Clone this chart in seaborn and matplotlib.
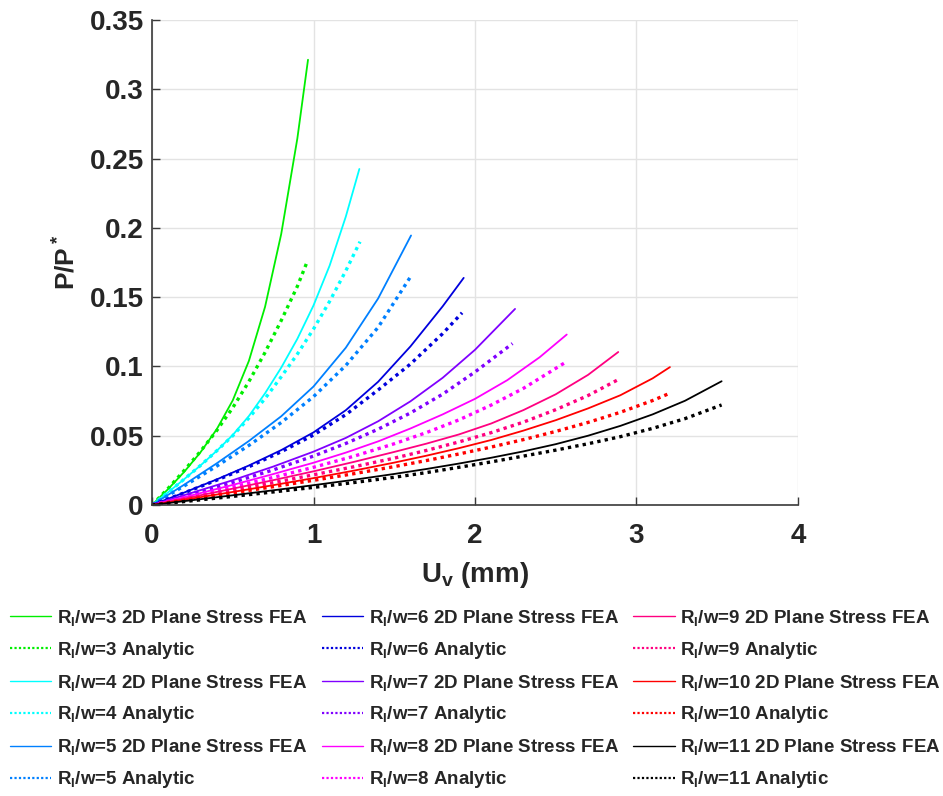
import matplotlib
matplotlib.use("Agg")
import matplotlib.pyplot as plt
import seaborn as sns
import pandas as pd
from matplotlib.lines import Line2D

# ---------------- data ----------------
ratios = [3, 4, 5, 6, 7, 8, 9, 10, 11]
colors = ["#00ee00", "#00ffff", "#0080ff", "#0000dd", "#8000ff",
          "#ff00ff", "#ff0080", "#ff0000", "#000000"]

u_fea_3 = [0, 0.1, 0.2, 0.3, 0.4, 0.5, 0.6, 0.7, 0.8, 0.9, 0.966]
p_fea_3 = [0, 0.0115, 0.024, 0.038, 0.0545, 0.0755, 0.104, 0.143, 0.1955, 0.2645, 0.3213]
u_ana_3 = [0, 0.1, 0.2, 0.3, 0.4, 0.5, 0.6, 0.7, 0.8, 0.9, 0.964]
p_ana_3 = [0, 0.012, 0.025, 0.0387, 0.0536, 0.0702, 0.0891, 0.1101, 0.1331, 0.1578, 0.1765]

u_fea_4 = [0, 0.1, 0.2, 0.3, 0.4, 0.5, 0.6, 0.7, 0.8, 0.9, 1.0, 1.1, 1.2, 1.284]
p_fea_4 = [0, 0.0092, 0.0187, 0.0285, 0.039, 0.0505, 0.0642, 0.0806, 0.0991, 0.1199, 0.144, 0.1728, 0.2081, 0.2425]
u_ana_4 = [0, 0.1, 0.2, 0.3, 0.4, 0.5, 0.6, 0.7, 0.8, 0.9, 1.0, 1.1, 1.2, 1.288]
p_ana_4 = [0, 0.0092, 0.0187, 0.0285, 0.039, 0.05, 0.0628, 0.0768, 0.0925, 0.1089, 0.127, 0.147, 0.169, 0.19]

u_fea_5 = [0, 0.2, 0.4, 0.6, 0.8, 1.0, 1.2, 1.4, 1.604]
p_fea_5 = [0, 0.0147, 0.03, 0.0462, 0.064, 0.0855, 0.1135, 0.149, 0.1945]
u_ana_5 = [0, 0.2, 0.4, 0.6, 0.8, 1.0, 1.2, 1.4, 1.605]
p_ana_5 = [0, 0.0138, 0.028, 0.043, 0.0595, 0.0782, 0.1007, 0.1282, 0.1655]

u_fea_6 = [0, 0.2, 0.4, 0.6, 0.8, 1.0, 1.2, 1.4, 1.6, 1.8, 1.93]
p_fea_6 = [0, 0.009, 0.0184, 0.0285, 0.0396, 0.0524, 0.0684, 0.0889, 0.1144, 0.1434, 0.1639]
u_ana_6 = [0, 0.2, 0.4, 0.6, 0.8, 1.0, 1.2, 1.4, 1.6, 1.8, 1.92]
p_ana_6 = [0, 0.0088, 0.0179, 0.0276, 0.0384, 0.0505, 0.0652, 0.083, 0.1017, 0.1237, 0.1387]

u_fea_7 = [0, 0.25, 0.5, 0.75, 1.0, 1.2, 1.4, 1.6, 1.8, 2.0, 2.248]
p_fea_7 = [0, 0.0089, 0.0179, 0.0277, 0.0385, 0.0484, 0.0604, 0.0748, 0.0918, 0.112, 0.1415]
u_ana_7 = [0, 0.25, 0.5, 0.75, 1.0, 1.2, 1.4, 1.6, 1.8, 2.0, 2.232]
p_ana_7 = [0, 0.008, 0.0163, 0.0253, 0.0353, 0.0444, 0.0547, 0.0664, 0.08, 0.096, 0.1165]

u_fea_8 = [0, 0.25, 0.5, 0.75, 1.0, 1.2, 1.4, 1.6, 1.8, 2.0, 2.2, 2.4, 2.568]
p_fea_8 = [0, 0.0071, 0.0145, 0.0223, 0.0305, 0.0378, 0.0459, 0.0552, 0.0654, 0.0766, 0.0901, 0.1066, 0.123]
u_ana_8 = [0, 0.25, 0.5, 0.75, 1.0, 1.25, 1.5, 1.7, 1.9, 2.1, 2.3, 2.568]
p_ana_8 = [0, 0.0064, 0.013, 0.0199, 0.0272, 0.0352, 0.0442, 0.0523, 0.0614, 0.0721, 0.0842, 0.1035]

u_fea_9 = [0, 0.25, 0.5, 0.75, 1.0, 1.25, 1.5, 1.7, 1.9, 2.1, 2.3, 2.5, 2.7, 2.887]
p_fea_9 = [0, 0.0058, 0.0118, 0.0179, 0.0243, 0.0311, 0.0383, 0.0443, 0.0509, 0.0588, 0.0685, 0.0799, 0.0939, 0.1104]
u_ana_9 = [0, 0.25, 0.5, 0.75, 1.0, 1.25, 1.5, 1.7, 1.9, 2.1, 2.3, 2.5, 2.7, 2.882]
p_ana_9 = [0, 0.0053, 0.0106, 0.0161, 0.0218, 0.0276, 0.0338, 0.0394, 0.0455, 0.0522, 0.0598, 0.0688, 0.079, 0.0902]

u_fea_10 = [0, 0.25, 0.5, 0.75, 1.0, 1.25, 1.5, 1.7, 1.9, 2.1, 2.3, 2.5, 2.7, 2.9, 3.1, 3.207]
p_fea_10 = [0, 0.0047, 0.0094, 0.0143, 0.0194, 0.0248, 0.0306, 0.0356, 0.041, 0.0469, 0.0537, 0.0612, 0.0697, 0.0792, 0.0914, 0.0995]
u_ana_10 = [0, 0.25, 0.5, 0.75, 1.0, 1.25, 1.5, 1.7, 1.9, 2.1, 2.3, 2.5, 2.7, 2.9, 3.1, 3.203]
p_ana_10 = [0, 0.0043, 0.0087, 0.0132, 0.0178, 0.0226, 0.0277, 0.0321, 0.0368, 0.0418, 0.0472, 0.0531, 0.0596, 0.0669, 0.0754, 0.0805]

u_fea_11 = [0, 0.25, 0.5, 0.75, 1.0, 1.25, 1.5, 1.7, 1.9, 2.1, 2.3, 2.5, 2.7, 2.9, 3.1, 3.3, 3.527]
p_fea_11 = [0, 0.0035, 0.007, 0.0106, 0.0143, 0.0182, 0.0224, 0.026, 0.0299, 0.0341, 0.0387, 0.0439, 0.05, 0.0571, 0.0654, 0.0752, 0.0893]
u_ana_11 = [0, 0.25, 0.5, 0.75, 1.0, 1.25, 1.5, 1.7, 1.9, 2.1, 2.3, 2.5, 2.7, 2.9, 3.1, 3.3, 3.527]
p_ana_11 = [0, 0.0031, 0.0062, 0.0094, 0.0127, 0.0162, 0.02, 0.0234, 0.0272, 0.0311, 0.0353, 0.0396, 0.0442, 0.0493, 0.0553, 0.0623, 0.0722]

x_ticks = [0, 1, 2, 3, 4]
x_tick_labels = ["0", "1", "2", "3", "4"]
y_ticks = [0, 0.05, 0.1, 0.15, 0.2, 0.25, 0.3, 0.35]
y_tick_labels = ["0", "0.05", "0.1", "0.15", "0.2", "0.25", "0.3", "0.35"]

fea_u = [u_fea_3, u_fea_4, u_fea_5, u_fea_6, u_fea_7, u_fea_8, u_fea_9, u_fea_10, u_fea_11]
fea_p = [p_fea_3, p_fea_4, p_fea_5, p_fea_6, p_fea_7, p_fea_8, p_fea_9, p_fea_10, p_fea_11]
ana_u = [u_ana_3, u_ana_4, u_ana_5, u_ana_6, u_ana_7, u_ana_8, u_ana_9, u_ana_10, u_ana_11]
ana_p = [p_ana_3, p_ana_4, p_ana_5, p_ana_6, p_ana_7, p_ana_8, p_ana_9, p_ana_10, p_ana_11]

# ---------------- style ----------------
sns.set_theme(style="white")
plt.rcParams["font.family"] = ["Liberation Sans", "DejaVu Sans"]
plt.rcParams["font.weight"] = "bold"
plt.rcParams["mathtext.fontset"] = "custom"
plt.rcParams["mathtext.rm"] = "Liberation Sans:bold"
plt.rcParams["mathtext.bf"] = "Liberation Sans:bold"
plt.rcParams["mathtext.it"] = "Liberation Sans:bold"

fig = plt.figure(figsize=(9.43, 7.96), dpi=100)
ax = fig.add_axes([152 / 943, 1 - 505 / 796, (798 - 152) / 943, (505 - 20) / 796])

dot_style = (0, (1.0, 1.25))
for i, r in enumerate(ratios):
    df_f = pd.DataFrame({"u": fea_u[i], "p": fea_p[i]})
    df_a = pd.DataFrame({"u": ana_u[i], "p": ana_p[i]})
    sns.lineplot(data=df_f, x="u", y="p", ax=ax, color=colors[i], lw=1.3,
                 sort=False, estimator=None, legend=False)
    sns.lineplot(data=df_a, x="u", y="p", ax=ax, color=colors[i], lw=2.4,
                 linestyle=dot_style, sort=False, estimator=None, legend=False)

ax.set_xlim(0, 4)
ax.set_ylim(0, 0.35)
ax.set_xticks(x_ticks)
ax.set_xticklabels(x_tick_labels)
ax.set_yticks(y_ticks)
ax.set_yticklabels(y_tick_labels)
ax.grid(True, color="#e3e3e3", lw=1.0)
ax.set_axisbelow(True)
for s in ["top", "right"]:
    ax.spines[s].set_visible(False)
for s in ["left", "bottom"]:
    ax.spines[s].set_color("#3a3a3a")
    ax.spines[s].set_linewidth(1.2)
ax.tick_params(axis="both", direction="in", length=6, width=1.0,
               color="#3a3a3a", labelsize=20, labelcolor="#262626",
               bottom=True, left=True)
ax.tick_params(axis="x", pad=13)
ax.tick_params(axis="y", pad=6)
for lab in ax.get_xticklabels() + ax.get_yticklabels():
    lab.set_fontweight("bold")

ax.set_xlabel(r"U$_\mathrm{v}$ (mm)", fontsize=20, fontweight="bold",
              color="#262626", labelpad=8)
ax.set_ylabel(r"P/P$^*$", fontsize=19, fontweight="bold",
              color="#262626", labelpad=7)

handles = []
labels = []
for i, r in enumerate(ratios):
    handles.append(Line2D([], [], color=colors[i], lw=1.0))
    labels.append(r"R$_\mathrm{I}$/w=%d 2D Plane Stress FEA" % r)
    handles.append(Line2D([], [], color=colors[i], lw=1.6, linestyle=(0, (1, 1))))
    labels.append(r"R$_\mathrm{I}$/w=%d Analytic" % r)

fig.legend(handles, labels, loc="upper left", bbox_to_anchor=(10 / 943, 1 - 608 / 796),
           ncol=3, frameon=False, fontsize=13.5, handlelength=2.2,
           handletextpad=0.3, columnspacing=0.78, labelspacing=0.63,
           borderpad=0, borderaxespad=0)

fig.savefig("out.png", dpi=100)
